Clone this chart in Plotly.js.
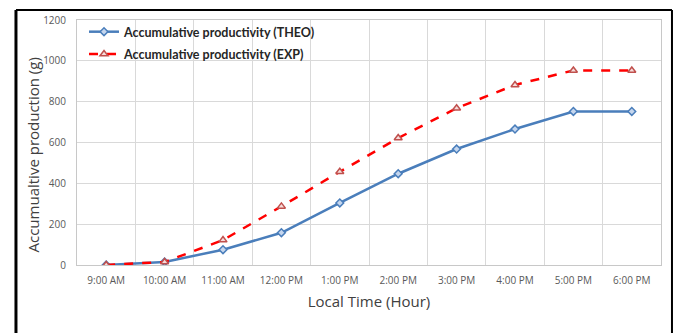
<!DOCTYPE html>
<html>
<head>
<meta charset="utf-8">
<script src="https://cdn.plot.ly/plotly-3.0.1.min.js"></script>
<style>
html,body{margin:0;padding:0;background:#fff;}
#chart{width:677px;height:333px;}
</style>
</head>
<body>
<div id="chart"></div>
<script>
const categories = ["9:00 AM","10:00 AM","11:00 AM","12:00 PM","1:00 PM","2:00 PM","3:00 PM","4:00 PM","5:00 PM","6:00 PM"];
const theoValues = [0, 15, 75, 158, 304, 447, 568, 666, 752, 752];
const expValues = [0, 15, 122, 287, 457, 622, 768, 882, 953, 953];
const yTicks = [0, 200, 400, 600, 800, 1000, 1200];
const yTitle = 'Accumualtive production (g)';
const xTitle = 'Local Time (Hour)';

const traces = [
  {
    x: categories, y: theoValues, type: 'scatter', mode: 'lines+markers',
    name: 'Accumulative productivity (THEO)', legendgroup: 'a',
    line: {color: '#4a7ebb', width: 2.5},
    marker: {symbol: 'diamond', size: 6, color: '#c5d6ee', line: {color: '#4a7ebb', width: 1.5}}
  },
  {
    x: categories, y: expValues, type: 'scatter', mode: 'lines+markers',
    name: 'Accumulative productivity (EXP)', legendgroup: 'b',
    line: {color: '#ff0000', width: 2.5, dash: 'dash'},
    marker: {symbol: 'triangle-up', size: 7, color: '#f6dcdb', line: {color: '#c0504d', width: 1.5}}
  }
];

const tickFont = {family: '"Open Sans", "Liberation Sans", sans-serif', size: 10, color: '#595959'};
const titleFont = {family: '"Open Sans", "Liberation Sans", sans-serif', size: 15, color: '#404040'};

const layout = {
  width: 677, height: 333,
  margin: {l: 77, r: 16, t: 20, b: 68},
  paper_bgcolor: '#ffffff', plot_bgcolor: '#ffffff',
  showlegend: true,
  legend: {
    x: 0.012, y: 1.012, xanchor: 'left', yanchor: 'top',
    bgcolor: 'rgba(255,255,255,0)',
    traceorder: 'grouped',
    font: {family: 'Lato, "Open Sans", sans-serif', size: 12.5, color: '#262626', weight: 'bold'},
    tracegroupgap: 3, itemwidth: 30
  },
  xaxis: {
    type: 'category',
    range: [-0.5, 9.5],
    tickson: 'boundaries',
    showgrid: true, gridcolor: '#d9d9d9', gridwidth: 1,
    showline: true, linecolor: '#c8c8c8', linewidth: 1, mirror: true,
    ticks: '', ticklabelstandoff: 6,
    tickfont: tickFont,
    title: {text: xTitle, font: titleFont, standoff: 10},
    fixedrange: true
  },
  yaxis: {
    range: [0, 1200],
    tickvals: yTicks,
    showgrid: true, gridcolor: '#d9d9d9', gridwidth: 1,
    showline: true, linecolor: '#c8c8c8', linewidth: 1, mirror: true,
    zeroline: false,
    ticks: '', ticklabelstandoff: 8,
    tickfont: tickFont,
    fixedrange: true
  },
  annotations: [
    {text: yTitle, xref: 'paper', yref: 'paper', x: -0.0745, y: 0.449, xanchor: 'center', yanchor: 'middle',
     textangle: -90, showarrow: false, font: titleFont}
  ],
  shapes: [
    {type: 'line', xref: 'paper', yref: 'paper', x0: -0.1045, x1: 1.0188, y0: 1.0408, y1: 1.0408, line: {color: '#000', width: 2}},
    {type: 'line', xref: 'paper', yref: 'paper', x0: -0.1045, x1: -0.1045, y0: 1.0408, y1: -0.35, line: {color: '#000', width: 3}},
    {type: 'line', xref: 'paper', yref: 'paper', x0: 1.0188, x1: 1.0188, y0: 1.0408, y1: -0.35, line: {color: '#000', width: 2}}
  ]
};

Plotly.newPlot('chart', traces, layout, {displayModeBar: false, staticPlot: true});
</script>
</body>
</html>
